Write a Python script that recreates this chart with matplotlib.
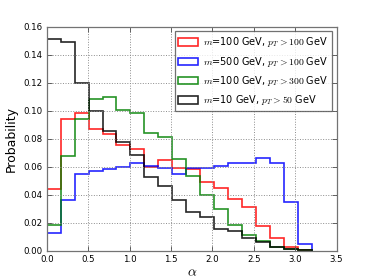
import numpy as np
import matplotlib
matplotlib.use("Agg")
import matplotlib.pyplot as plt
import matplotlib.patches as mpatches

plt.rcParams['mathtext.fontset'] = 'cm'
plt.rcParams['font.family'] = ['DejaVu Sans']

bin_edges = np.linspace(0.0, 3.2, 20)

labels = [r"$m$=100 GeV, $p_T>100$ GeV",
          r"$m$=500 GeV, $p_T>100$ GeV",
          r"$m$=100 GeV, $p_T>300$ GeV",
          r"$m$=10 GeV, $p_T>50$ GeV"]
colors = ["#ff0000", "#0000ff", "#008000", "#000000"]

red = [0.0439, 0.0939, 0.0981, 0.0867, 0.0834, 0.0753, 0.0724, 0.0600, 0.0648, 0.0590,
       0.0580, 0.0493, 0.0446, 0.0367, 0.0312, 0.0176, 0.0092, 0.0029, 0.0005]
blue = [0.0129, 0.0362, 0.0548, 0.0571, 0.0581, 0.0596, 0.0624, 0.0605, 0.0588, 0.0548,
        0.0588, 0.0588, 0.0605, 0.0629, 0.0624, 0.0664, 0.0624, 0.0350, 0.0048]
green = [0.0186, 0.0676, 0.0940, 0.1080, 0.1096, 0.1005, 0.0986, 0.0839, 0.0810, 0.0653,
         0.0534, 0.0400, 0.0300, 0.0184, 0.0108, 0.0068, 0.0029, 0.0010, 0.0002]
black = [0.1510, 0.1490, 0.1196, 0.1000, 0.0857, 0.0776, 0.0680, 0.0524, 0.0460, 0.0360,
         0.0274, 0.0243, 0.0157, 0.0140, 0.0088, 0.0060, 0.0029, 0.0010, 0.0005]

xticks = [0.0, 0.5, 1.0, 1.5, 2.0, 2.5, 3.0, 3.5]
yticks = [0.00, 0.02, 0.04, 0.06, 0.08, 0.10, 0.12, 0.14, 0.16]

fig = plt.figure(figsize=(3.74, 2.80), dpi=100)
ax = fig.add_axes([0.125, 0.105, 0.775, 0.80])

handles = []
for vals, c, lab in zip([red, blue, green, black], colors, labels):
    ax.stairs(vals, bin_edges, color=c, lw=1.2, alpha=0.85, baseline=0)
    handles.append(mpatches.Patch(facecolor='none', edgecolor=c, lw=1.2,
                                  alpha=0.85, label=lab))

ax.set_xlim(0, 3.5)
ax.set_ylim(0, 0.16)
ax.set_xticks(xticks)
ax.set_yticks(yticks)
ax.set_xticklabels([f"{v:.1f}" for v in xticks])
ax.set_yticklabels([f"{v:.2f}" for v in yticks])
ax.tick_params(direction='in', top=True, right=True, labelsize=6.2, length=3.5,
               width=0.6, color='0.3', pad=3)
ax.grid(True, linestyle=':', color='0.55', lw=0.7)
for s in ax.spines.values():
    s.set_color('0.45')
    s.set_linewidth(0.9)

ax.set_xlabel(r"$\alpha$", fontsize=10, labelpad=1)
ax.set_ylabel("Probability", fontsize=9, labelpad=4)

leg = ax.legend(handles=handles, loc='upper right', fontsize=7.0, frameon=True,
                fancybox=False, handlelength=2.0, handleheight=0.75,
                labelspacing=0.55, borderpad=0.4, handletextpad=0.5,
                borderaxespad=0.5)
leg.get_frame().set_edgecolor('0.3')
leg.get_frame().set_linewidth(0.9)

fig.savefig("out.png", dpi=100)
